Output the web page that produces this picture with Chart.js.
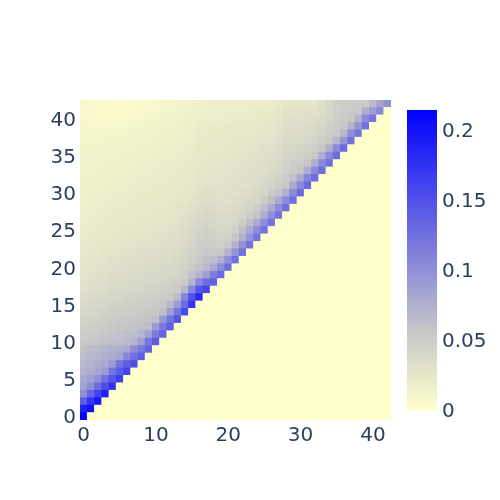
<!DOCTYPE html>
<html>
<head>
<meta charset="utf-8">
<script src="https://cdn.jsdelivr.net/npm/chart.js@4/dist/chart.umd.min.js"></script>
<style>
  html, body { margin: 0; background: #fff; }
  #wrap { width: 500px; height: 500px; }
</style>
</head>
<body>
<div id="wrap"><canvas id="heat" width="500" height="500"></canvas></div>
<script>
var xTickLabels = [0, 10, 20, 30, 40];
var yTickLabels = [0, 5, 10, 15, 20, 25, 30, 35, 40];
var barTickLabels = [0, 0.05, 0.1, 0.15, 0.2];
var zMax = 0.2143;

// z values in thousandths, one list per row (y = 0 first), x = 0 up to x = y
// cells right of the list are 0
var zRows = [
  [213],
  [188,200],
  [140,172,195],
  [100,132,160,187],
  [86,100,130,153,176],
  [80,88,100,125,146,166],
  [72,76,82,90,122,142,160],
  [68,72,76,80,90,122,138,152],
  [64,68,70,74,78,84,108,125,140],
  [60,63,66,70,72,76,80,102,118,136],
  [54,56,58,60,62,64,66,70,85,120,142],
  [50,52,54,56,58,60,62,64,68,85,118,135],
  [46,48,50,52,54,56,58,60,62,65,92,118,138],
  [43,45,47,49,51,53,54,56,57,59,62,92,122,145],
  [40,42,44,46,48,49,51,52,53,54,56,62,88,122,155],
  [36,38,40,42,44,45,47,48,49,50,52,55,68,92,128,172],
  [34,36,37,39,41,42,44,45,46,47,48,50,53,64,110,150,182],
  [32,33,35,36,38,39,41,42,43,44,45,46,48,52,68,108,145,158],
  [30,31,33,34,36,37,38,39,40,41,42,43,45,47,52,72,105,128,136],
  [28,29,31,32,34,35,36,37,38,39,40,41,42,44,47,60,70,88,114,130],
  [26,27,29,30,32,33,34,35,36,36,37,38,39,41,44,50,58,66,78,104,126],
  [24,26,27,28,30,31,32,33,34,34,35,36,37,39,42,47,54,60,64,74,100,124],
  [23,24,25,27,28,29,30,31,32,32,33,34,35,37,40,45,51,54,54,56,72,96,122],
  [22,23,24,25,26,27,28,29,30,30,31,32,33,35,38,43,49,51,49,47,52,72,98,122],
  [20,21,22,23,24,25,26,27,28,28,29,30,31,33,36,41,47,49,47,44,45,56,74,98,122],
  [19,20,21,22,23,24,25,25,26,27,27,28,29,31,34,38,44,46,44,41,41,47,62,80,102,124],
  [18,19,20,21,22,23,23,24,25,25,26,26,27,29,32,35,40,43,41,38,38,41,50,62,80,102,122],
  [17,18,19,20,21,22,22,23,24,24,25,25,26,28,30,33,37,39,38,36,36,38,42,50,58,76,100,122],
  [16,17,18,19,20,21,21,22,23,23,24,24,25,27,28,30,34,36,35,33,34,36,38,42,50,62,80,102,126],
  [16,17,17,18,19,20,20,21,22,22,23,23,24,25,26,28,31,33,33,32,32,34,36,38,42,50,62,80,104,126],
  [15,16,16,17,18,19,19,20,21,21,22,22,23,24,25,26,29,31,31,30,31,32,34,36,38,42,52,58,76,104,128],
  [15,15,16,16,17,18,18,19,20,20,21,21,22,23,24,25,27,29,29,29,30,31,32,34,36,39,44,50,56,78,106,128],
  [14,14,15,15,16,17,17,18,19,19,20,20,21,22,23,24,26,27,28,28,29,30,31,33,34,37,40,45,52,60,80,108,128],
  [13,13,14,15,15,16,16,17,18,18,19,19,20,21,22,23,25,26,27,27,28,29,30,31,33,34,37,41,46,50,57,76,104,126],
  [13,13,13,14,14,15,15,16,17,17,18,19,19,20,21,22,24,25,26,26,27,27,28,30,31,33,35,39,44,48,52,56,76,104,124],
  [12,12,12,13,13,14,14,15,16,16,17,18,18,19,20,21,23,24,25,25,26,26,27,28,30,31,33,36,41,44,47,50,54,76,104,128],
  [11,11,11,12,12,13,13,14,15,15,16,17,17,18,19,20,22,23,24,24,25,25,26,27,28,30,31,34,38,40,42,46,50,54,74,104,128],
  [11,10,10,11,11,12,12,13,14,14,15,16,16,17,18,19,21,22,23,23,24,24,25,26,27,28,29,32,36,37,38,40,44,49,55,70,96,124],
  [10,9,9,10,10,10,11,12,13,13,14,15,15,16,17,18,20,21,22,22,23,23,23,24,25,26,27,30,34,35,36,37,40,44,49,55,68,100,120],
  [9,8,8,8,8,9,9,10,11,12,13,14,14,15,16,17,19,20,21,21,22,22,22,23,23,24,25,28,32,33,34,35,37,40,45,50,55,70,96,124],
  [9,7,7,6,6,6,7,8,9,10,11,12,13,14,15,16,17,18,18,19,19,20,20,21,21,22,22,26,30,31,31,32,34,37,42,48,52,54,72,104,120],
  [8,7,6,5,5,5,5,6,7,8,9,10,11,12,13,14,15,16,17,18,18,19,19,19,20,20,20,24,28,28,29,30,31,34,39,46,50,52,53,76,88,106],
  [8,7,6,5,4,4,4,5,6,7,8,9,10,11,13,14,15,16,17,17,17,17,18,18,18,18,19,20,25,25,25,26,26,33,40,48,50,50,51,52,66,82,98]
];

// colour scale stops: position along 0..zMax and rgb
var scalePos = [0, 0.257, 1];
var scaleRgb = [[255, 255, 204], [200, 200, 200], [0, 0, 255]];

function zColor(v) {
  var t = Math.min(1, v / zMax);
  var i = t < scalePos[1] ? 0 : 1;
  var f = (t - scalePos[i]) / (scalePos[i + 1] - scalePos[i]);
  var a = scaleRgb[i], b = scaleRgb[i + 1];
  return "rgb(" + Math.round(a[0] + (b[0] - a[0]) * f) + "," +
    Math.round(a[1] + (b[1] - a[1]) * f) + "," +
    Math.round(a[2] + (b[2] - a[2]) * f) + ")";
}

var xCats = [];
for (var i = 0; i < zRows.length; i++) {
  xCats.push(String(i));
}

// one dataset per row, every bar is one heatmap cell
var datasets = [];
for (let y = 0; y < zRows.length; y++) {
  var cells = [];
  var colors = [];
  for (let x = 0; x < xCats.length; x++) {
    var raw = x < zRows[y].length ? zRows[y][x] : 0;
    cells.push([y - 0.5, y + 0.5]);
    colors.push(zColor(raw / 1000));
  }
  datasets.push({
    data: cells,
    backgroundColor: colors,
    borderWidth: 0,
    barPercentage: 1,
    categoryPercentage: 1,
    grouped: false,
    yAxisID: "y"
  });
}

var colorBar = {
  id: "colorBar",
  afterDraw: function(chart) {
    var s = chart.scales.bar;
    var top = s.getPixelForValue(zMax);
    var bottom = s.getPixelForValue(0);
    var g = chart.ctx.createLinearGradient(0, bottom, 0, top);
    for (var i = 0; i < scalePos.length; i++) {
      g.addColorStop(scalePos[i], "rgb(" + scaleRgb[i].join(",") + ")");
    }
    chart.ctx.fillStyle = g;
    chart.ctx.fillRect(407, top, 30, bottom - top);
  }
};

var tickFont = { family: "'DejaVu Sans', Verdana, sans-serif", size: 20 };
var tickColor = "#2a3f5f";

new Chart(document.getElementById("heat"), {
  type: "bar",
  data: { labels: xCats, datasets: datasets },
  plugins: [colorBar],
  options: {
    responsive: false,
    animation: false,
    layout: { padding: { top: 100, left: 0, right: 0, bottom: 0 } },
    plugins: { legend: { display: false }, tooltip: { enabled: false } },
    scales: {
      x: {
        type: "category",
        offset: true,
        grid: { display: false, drawTicks: false },
        border: { display: false },
        afterFit: function(s) { s.height = 80; },
        ticks: {
          autoSkip: false,
          maxRotation: 0,
          minRotation: 0,
          padding: 4,
          font: tickFont,
          color: tickColor,
          callback: function(value) {
            var n = Number(this.getLabelForValue(value));
            return xTickLabels.indexOf(n) >= 0 ? String(n) : "";
          }
        }
      },
      y: {
        type: "linear",
        position: "left",
        min: -0.5,
        max: 42.5,
        grid: { display: false, drawTicks: false },
        border: { display: false },
        afterFit: function(s) { s.width = 80; },
        afterBuildTicks: function(s) {
          s.ticks = yTickLabels.map(function(v) { return { value: v }; });
        },
        ticks: { padding: 4, labelOffset: 2, font: tickFont, color: tickColor }
      },
      bar: {
        type: "linear",
        position: "right",
        min: -10 / 1400,
        max: 310 / 1400,
        grid: { display: false, drawTicks: false },
        border: { display: false },
        afterFit: function(s) { s.width = 109; },
        afterBuildTicks: function(s) {
          s.ticks = barTickLabels.map(function(v) { return { value: v }; });
        },
        ticks: {
          padding: 51,
          labelOffset: 2,
          font: tickFont,
          color: tickColor,
          callback: function(value) { return String(value); }
        }
      }
    }
  }
});
</script>
</body>
</html>
